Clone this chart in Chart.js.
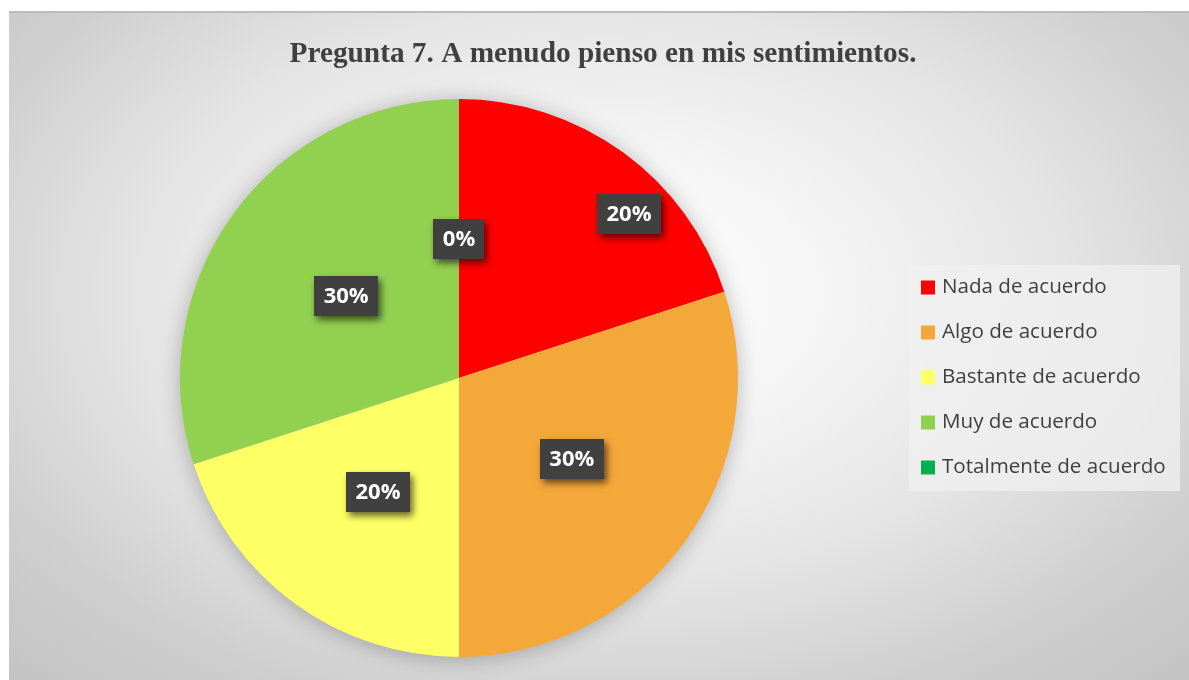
<!DOCTYPE html>
<html>
<head>
<meta charset="utf-8">
<script src="https://cdn.jsdelivr.net/npm/chart.js@4.4.1/dist/chart.umd.min.js"></script>
<style>
  html, body { margin: 0; padding: 0; background: #ffffff; width: 1189px; height: 680px; overflow: hidden; }
  #frame {
    position: absolute; left: 9px; top: 11px; width: 1180px; height: 669px;
    box-sizing: border-box;
    border-top: 2px solid #bcbcbc;
    background: radial-gradient(ellipse 72% 80% at 50% 42%, #ffffff 0%, #f6f6f6 25%, #e4e4e4 55%, #cfcfcf 80%, #c4c4c4 100%);
  }
  #c { position: absolute; left: 0; top: 0; }
</style>
</head>
<body>
<div id="frame"></div>
<canvas id="c" width="1189" height="680"></canvas>
<script>
// ---- data ----
const titleText = "Pregunta 7. A menudo pienso en mis sentimientos.";
const categories = ["Nada de acuerdo", "Algo de acuerdo", "Bastante de acuerdo", "Muy de acuerdo", "Totalmente de acuerdo"];
const percentages = [20, 30, 20, 30, 0];
const sliceColors = ["#ff0000", "#f5a83a", "#ffff66", "#92d050", "#00b050"];

// ---- styling (label nudges in px, relative to the slice mid-point at half radius) ----
const labelNudge = [[88, -51], [0, -1], [1, 1], [0, 0], [0, 0]];

const pieShadowPlugin = {
  id: 'pieShadow',
  beforeDatasetsDraw(chart) {
    const arc = chart.getDatasetMeta(0).data[0];
    if (!arc) return;
    const ctx = chart.ctx;
    ctx.save();
    ctx.shadowColor = 'rgba(0,0,0,0.28)';
    ctx.shadowBlur = 22;
    ctx.shadowOffsetX = 0;
    ctx.shadowOffsetY = 2;
    ctx.fillStyle = '#dddddd';
    ctx.beginPath();
    ctx.arc(arc.x, arc.y, arc.outerRadius - 1, 0, Math.PI * 2);
    ctx.fill();
    ctx.restore();
  }
};

const labelsPlugin = {
  id: 'boxLabels',
  afterDatasetsDraw(chart) {
    const ctx = chart.ctx;
    const meta = chart.getDatasetMeta(0);
    const vals = chart.data.datasets[0].data;
    ctx.save();
    ctx.font = 'bold 22px "Open Sans"';
    ctx.textAlign = 'center';
    ctx.textBaseline = 'middle';
    meta.data.forEach((arc, i) => {
      const mid = (arc.startAngle + arc.endAngle) / 2;
      const r = arc.outerRadius * 0.5;
      const cx = arc.x + Math.cos(mid) * r + labelNudge[i][0];
      const cy = arc.y + Math.sin(mid) * r + labelNudge[i][1];
      const txt = vals[i] + '%';
      const w = ctx.measureText(txt).width + 19;
      const h = 40;
      ctx.save();
      ctx.shadowColor = 'rgba(0,0,0,0.6)';
      ctx.shadowBlur = 7;
      ctx.shadowOffsetX = 3;
      ctx.shadowOffsetY = 4;
      ctx.fillStyle = '#404040';
      ctx.fillRect(Math.round(cx - w / 2), Math.round(cy - h / 2), Math.round(w), h);
      ctx.restore();
      ctx.fillStyle = '#ffffff';
      ctx.fillText(txt, cx, cy + 1);
    });
    ctx.restore();
  }
};

const titleLegendPlugin = {
  id: 'titleLegend',
  afterDraw(chart) {
    const ctx = chart.ctx;
    ctx.save();
    // title
    ctx.fillStyle = '#404040';
    ctx.font = 'bold 29.3px "Liberation Serif"';
    ctx.textAlign = 'center';
    ctx.textBaseline = 'alphabetic';
    ctx.fillText(titleText, 603, 62);
    // legend
    ctx.fillStyle = 'rgba(240,240,240,0.75)';
    ctx.fillRect(909, 265, 271, 226);
    ctx.font = '20.6px "Open Sans"';
    ctx.textAlign = 'left';
    ctx.textBaseline = 'middle';
    chart.data.labels.forEach((lab, i) => {
      const y = 287.5 + i * 45;
      ctx.fillStyle = chart.data.datasets[0].backgroundColor[i];
      ctx.fillRect(921, y - 7, 14, 14);
      ctx.fillStyle = '#404040';
      ctx.fillText(lab, 942, y);
    });
    ctx.restore();
  }
};

new Chart(document.getElementById('c'), {
  type: 'pie',
  data: {
    labels: categories,
    datasets: [{
      data: percentages,
      backgroundColor: sliceColors,
      borderWidth: 0
    }]
  },
  options: {
    responsive: false,
    animation: false,
    layout: { padding: { top: 99, bottom: 23, left: 180, right: 451 } },
    plugins: {
      legend: { display: false },
      title: { display: false },
      tooltip: { enabled: false }
    }
  },
  plugins: [pieShadowPlugin, labelsPlugin, titleLegendPlugin]
});
</script>
</body>
</html>
